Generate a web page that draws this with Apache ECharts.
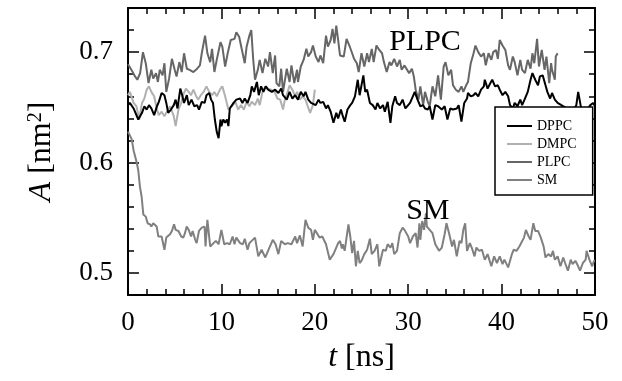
<!DOCTYPE html>
<html>
<head>
<meta charset="utf-8">
<script src="https://cdn.jsdelivr.net/npm/echarts@6/dist/echarts.min.js"></script>
<style>
  html, body { margin: 0; padding: 0; background: #fff; }
  #chart { width: 622px; height: 381px; }
</style>
</head>
<body>
<div id="chart"></div>
<script>
// lipid names, in legend order
const lipids = ['DPPC', 'DMPC', 'PLPC', 'SM'];

// area per lipid A [nm^2] against time t [ns], pairs [t, A]
const dppc = [
  [0, 0.652], [0.2, 0.654], [0.6, 0.649], [1.1, 0.639], [1.5, 0.645], [1.75, 0.651], [2.0, 0.648], [2.25, 0.652],
  [2.5, 0.649], [2.8, 0.643], [3.1, 0.651], [3.3, 0.655], [3.6, 0.663], [3.9, 0.661], [4.1, 0.654], [4.3, 0.645],
  [4.6, 0.648], [4.9, 0.652], [5.1, 0.657], [5.3, 0.649], [5.6, 0.667], [5.8, 0.661], [6.0, 0.654], [6.3, 0.661],
  [6.5, 0.652], [6.8, 0.657], [7.1, 0.651], [7.4, 0.652], [7.6, 0.648], [7.9, 0.655], [8.2, 0.654], [8.4, 0.661],
  [8.7, 0.663], [8.9, 0.657], [9.1, 0.654], [9.3, 0.639], [9.5, 0.628], [9.7, 0.622], [9.9, 0.639], [10.0, 0.633],
  [10.2, 0.639], [10.4, 0.636], [10.6, 0.639], [10.75, 0.633], [10.9, 0.649], [11.3, 0.654], [11.6, 0.657],
  [12.0, 0.658], [12.25, 0.654], [12.5, 0.658], [12.8, 0.654], [13.1, 0.661], [13.25, 0.669], [13.5, 0.664],
  [13.8, 0.673], [14.0, 0.661], [14.25, 0.669], [14.5, 0.664], [14.75, 0.669], [15.0, 0.666], [15.4, 0.664],
  [15.75, 0.666], [16.1, 0.663], [16.4, 0.667], [16.6, 0.661], [17.0, 0.657], [17.3, 0.664], [17.6, 0.658],
  [17.9, 0.661], [18.2, 0.657], [18.5, 0.664], [18.8, 0.660], [19.0, 0.664], [19.3, 0.657], [19.6, 0.654],
  [19.8, 0.655], [20.1, 0.652], [20.4, 0.657], [20.6, 0.654], [20.9, 0.655], [21.2, 0.649], [21.4, 0.652],
  [21.7, 0.646], [22.0, 0.636], [22.3, 0.645], [22.5, 0.640], [22.8, 0.648], [23.0, 0.642], [23.2, 0.637],
  [23.5, 0.648], [23.8, 0.652], [24.0, 0.654], [24.3, 0.660], [24.6, 0.675], [24.8, 0.661], [25.0, 0.670],
  [25.2, 0.679], [25.4, 0.664], [25.6, 0.666], [25.9, 0.654], [26.2, 0.652], [26.5, 0.648], [26.7, 0.654],
  [27.0, 0.649], [27.3, 0.652], [27.5, 0.646], [27.8, 0.655], [28.1, 0.636], [28.3, 0.651], [28.6, 0.660],
  [28.8, 0.654], [29.1, 0.652], [29.4, 0.657], [29.7, 0.649], [29.9, 0.648], [30.2, 0.654], [30.5, 0.660],
  [30.7, 0.664], [31.0, 0.657], [31.3, 0.651], [31.6, 0.652], [31.8, 0.649], [32.1, 0.648], [32.3, 0.651],
  [32.6, 0.639], [32.9, 0.652], [33.2, 0.651], [33.6, 0.648], [33.9, 0.651], [34.2, 0.639], [34.5, 0.649],
  [34.8, 0.648], [35.2, 0.649], [35.4, 0.652], [35.7, 0.637], [36.0, 0.654], [36.3, 0.658], [36.4, 0.663],
  [36.7, 0.660], [37.0, 0.661], [37.2, 0.663], [37.5, 0.660], [37.8, 0.666], [38.1, 0.669], [38.2, 0.675],
  [38.5, 0.667], [38.8, 0.672], [39.0, 0.675], [39.3, 0.669], [39.6, 0.670], [39.8, 0.666], [40.1, 0.661],
  [40.4, 0.664], [40.7, 0.660], [40.9, 0.652], [41.2, 0.649], [41.4, 0.654], [41.7, 0.651], [42.0, 0.657],
  [42.2, 0.652], [42.5, 0.658], [42.8, 0.664], [43.1, 0.675], [43.3, 0.681], [43.6, 0.675], [43.9, 0.670],
  [44.1, 0.678], [44.4, 0.679], [44.7, 0.670], [44.9, 0.664], [45.2, 0.658], [45.4, 0.663], [45.7, 0.657],
  [46.0, 0.654], [46.4, 0.652], [46.8, 0.650], [47.2, 0.648], [47.6, 0.646], [48.0, 0.652], [48.2, 0.664],
  [48.5, 0.650], [48.8, 0.645], [49.2, 0.648], [49.5, 0.652], [49.8, 0.654], [50.0, 0.651]
];

const dmpc = [
  [0, 0.661], [0.2, 0.664], [0.6, 0.654], [0.9, 0.651], [1.2, 0.639], [1.5, 0.654], [1.75, 0.658], [2.0, 0.666],
  [2.25, 0.669], [2.5, 0.664], [2.8, 0.660], [3.1, 0.648], [3.3, 0.643], [3.6, 0.646], [3.9, 0.642], [4.1, 0.645],
  [4.5, 0.651], [4.9, 0.642], [5.1, 0.633], [5.4, 0.648], [5.7, 0.654], [5.9, 0.661], [6.2, 0.667], [6.5, 0.664],
  [6.75, 0.661], [7.0, 0.666], [7.25, 0.661], [7.5, 0.657], [7.8, 0.661], [8.1, 0.664], [8.4, 0.669], [8.7, 0.664],
  [9.0, 0.661], [9.25, 0.664], [9.5, 0.660], [9.9, 0.667], [10.1, 0.669], [10.4, 0.660], [10.75, 0.648],
  [11.1, 0.651], [11.5, 0.655], [11.8, 0.648], [12.1, 0.652], [12.4, 0.648], [12.7, 0.655], [13.0, 0.651],
  [13.25, 0.655], [13.6, 0.652], [13.9, 0.658], [14.1, 0.652], [14.4, 0.664], [14.7, 0.669], [15.0, 0.667],
  [15.3, 0.666], [15.7, 0.664], [16.0, 0.658], [16.3, 0.657], [16.6, 0.648], [16.8, 0.657], [17.1, 0.664],
  [17.3, 0.670], [17.6, 0.666], [17.9, 0.660], [18.1, 0.664], [18.4, 0.657], [18.7, 0.660], [19.0, 0.657],
  [19.2, 0.652], [19.5, 0.645], [19.8, 0.652], [20.0, 0.666]
];

const plpc = [
  [0, 0.689], [0.2, 0.690], [0.5, 0.682], [0.75, 0.678], [1.0, 0.675], [1.3, 0.681], [1.6, 0.700], [1.9, 0.690],
  [2.2, 0.672], [2.5, 0.684], [2.7, 0.676], [3.0, 0.681], [3.2, 0.673], [3.4, 0.684], [3.7, 0.679], [3.9, 0.690],
  [4.1, 0.664], [4.4, 0.676], [4.7, 0.694], [5.0, 0.684], [5.2, 0.678], [5.5, 0.691], [5.75, 0.682], [6.0, 0.699],
  [6.3, 0.685], [6.6, 0.684], [7.0, 0.682], [7.4, 0.685], [7.7, 0.688], [7.9, 0.699], [8.25, 0.715], [8.5, 0.699],
  [8.8, 0.691], [9.0, 0.703], [9.25, 0.682], [9.5, 0.693], [9.9, 0.709], [10.1, 0.705], [10.4, 0.687],
  [10.7, 0.700], [11.0, 0.711], [11.4, 0.712], [11.6, 0.718], [11.9, 0.714], [12.2, 0.702], [12.5, 0.690],
  [12.7, 0.705], [13.0, 0.715], [13.2, 0.720], [13.4, 0.694], [13.6, 0.675], [13.9, 0.684], [14.1, 0.693],
  [14.4, 0.681], [14.7, 0.694], [15.0, 0.687], [15.2, 0.700], [15.5, 0.681], [15.75, 0.697], [15.9, 0.672],
  [16.2, 0.669], [16.4, 0.685], [16.6, 0.664], [17.0, 0.685], [17.3, 0.673], [17.5, 0.688], [17.8, 0.672],
  [18.1, 0.684], [18.2, 0.673], [18.5, 0.687], [18.8, 0.693], [19.1, 0.703], [19.3, 0.696], [19.6, 0.700],
  [19.8, 0.706], [20.1, 0.696], [20.4, 0.691], [20.6, 0.697], [20.9, 0.690], [21.2, 0.715], [21.4, 0.705],
  [21.7, 0.711], [21.9, 0.721], [22.1, 0.708], [22.3, 0.724], [22.5, 0.711], [22.7, 0.697], [23.1, 0.696],
  [23.4, 0.712], [23.7, 0.706], [24.0, 0.699], [24.2, 0.694], [24.5, 0.690], [24.7, 0.682], [25.0, 0.699],
  [25.3, 0.687], [25.6, 0.699], [25.8, 0.691], [26.1, 0.703], [26.3, 0.691], [26.6, 0.706], [26.9, 0.702],
  [27.2, 0.699], [27.4, 0.691], [27.7, 0.682], [28.0, 0.691], [28.2, 0.688], [28.5, 0.694], [28.8, 0.687],
  [29.1, 0.693], [29.3, 0.684], [29.6, 0.688], [29.8, 0.687], [30.1, 0.681], [30.4, 0.685], [30.6, 0.678],
  [30.8, 0.666], [31.1, 0.657], [31.3, 0.669], [31.6, 0.652], [31.8, 0.664], [32.1, 0.655], [32.3, 0.651],
  [32.6, 0.669], [32.9, 0.660], [33.2, 0.679], [33.5, 0.657], [33.8, 0.687], [34.0, 0.691], [34.3, 0.679],
  [34.6, 0.684], [34.8, 0.670], [35.1, 0.666], [35.4, 0.664], [35.7, 0.669], [35.9, 0.664], [36.2, 0.670],
  [36.4, 0.673], [36.7, 0.690], [37.0, 0.699], [37.2, 0.706], [37.5, 0.700], [37.8, 0.696], [38.1, 0.699],
  [38.3, 0.688], [38.6, 0.699], [38.9, 0.693], [39.1, 0.700], [39.4, 0.702], [39.6, 0.694], [39.8, 0.711],
  [40.1, 0.706], [40.4, 0.702], [40.7, 0.688], [40.9, 0.684], [41.2, 0.696], [41.4, 0.691], [41.7, 0.679],
  [42.0, 0.693], [42.2, 0.684], [42.5, 0.681], [42.8, 0.693], [43.1, 0.685], [43.3, 0.699], [43.5, 0.690],
  [43.8, 0.712], [44.0, 0.687], [44.3, 0.702], [44.6, 0.684], [44.8, 0.696], [45.1, 0.672], [45.3, 0.690],
  [45.4, 0.684], [45.7, 0.675], [45.8, 0.696], [46.0, 0.699]
];

const sm = [
  [0, 0.628], [0.4, 0.621], [0.6, 0.611], [0.93, 0.600], [1.1, 0.593], [1.28, 0.578], [1.46, 0.569], [1.64, 0.553],
  [1.9, 0.551], [2.1, 0.545], [2.35, 0.544], [2.5, 0.542], [2.7, 0.545], [3.07, 0.542], [3.25, 0.533], [3.6, 0.533],
  [3.9, 0.521], [4.1, 0.532], [4.5, 0.535], [4.7, 0.538], [4.93, 0.544], [5.1, 0.539], [5.4, 0.538], [5.7, 0.533],
  [5.92, 0.532], [6.1, 0.536], [6.28, 0.542], [6.5, 0.539], [6.75, 0.533], [6.92, 0.538], [7.2, 0.530],
  [7.35, 0.527], [7.6, 0.538], [7.9, 0.541], [8.2, 0.542], [8.3, 0.524], [8.5, 0.548], [8.8, 0.524], [9.0, 0.524],
  [9.4, 0.529], [9.7, 0.526], [10.0, 0.539], [10.3, 0.526], [10.6, 0.527], [10.9, 0.526], [11.2, 0.533],
  [11.4, 0.526], [11.6, 0.532], [12.0, 0.527], [12.3, 0.526], [12.5, 0.531], [12.8, 0.521], [13.0, 0.527],
  [13.6, 0.532], [13.95, 0.515], [14.3, 0.521], [14.7, 0.514], [15.1, 0.522], [15.5, 0.530], [15.8, 0.526],
  [16.1, 0.517], [16.4, 0.529], [16.8, 0.526], [17.1, 0.527], [17.5, 0.526], [17.9, 0.533], [18.1, 0.527],
  [18.4, 0.534], [18.7, 0.524], [19.0, 0.548], [19.3, 0.541], [19.6, 0.539], [19.8, 0.530], [20.0, 0.539],
  [20.3, 0.535], [20.5, 0.532], [20.8, 0.533], [21.2, 0.526], [21.4, 0.526], [21.6, 0.512], [22.0, 0.517],
  [22.2, 0.518], [22.5, 0.527], [22.7, 0.529], [22.9, 0.522], [23.0, 0.526], [23.2, 0.520], [23.6, 0.544],
  [23.8, 0.533], [24.0, 0.518], [24.2, 0.529], [24.4, 0.506], [24.6, 0.520], [24.8, 0.509], [25.0, 0.511],
  [25.3, 0.517], [25.6, 0.521], [25.9, 0.531], [26.1, 0.517], [26.4, 0.520], [26.7, 0.526], [26.9, 0.506],
  [27.3, 0.521], [27.6, 0.520], [27.8, 0.526], [28.1, 0.523], [28.3, 0.527], [28.5, 0.517], [28.8, 0.520],
  [29.1, 0.536], [29.4, 0.541], [29.6, 0.539], [30.0, 0.533], [30.2, 0.527], [30.5, 0.533], [30.8, 0.536],
  [31.0, 0.523], [31.2, 0.545], [31.3, 0.530], [31.5, 0.547], [31.7, 0.539], [31.9, 0.554], [32.0, 0.542],
  [32.3, 0.539], [32.6, 0.536], [32.9, 0.526], [33.3, 0.520], [33.6, 0.523], [33.9, 0.535], [34.1, 0.545],
  [34.4, 0.535], [34.7, 0.524], [34.9, 0.530], [35.2, 0.515], [35.5, 0.529], [35.7, 0.527], [35.9, 0.539],
  [36.1, 0.545], [36.3, 0.520], [36.6, 0.527], [36.8, 0.523], [37.1, 0.515], [37.3, 0.523], [37.6, 0.520],
  [37.9, 0.521], [38.2, 0.512], [38.5, 0.517], [38.9, 0.506], [39.2, 0.515], [39.5, 0.509], [39.8, 0.515],
  [40.1, 0.508], [40.3, 0.512], [40.7, 0.505], [41.1, 0.517], [41.3, 0.521], [41.6, 0.520], [41.9, 0.524],
  [42.1, 0.523], [42.4, 0.532], [42.6, 0.539], [42.9, 0.533], [43.1, 0.530], [43.4, 0.545], [43.6, 0.538],
  [43.9, 0.538], [44.2, 0.532], [44.5, 0.524], [44.7, 0.514], [45.0, 0.517], [45.3, 0.515], [45.5, 0.520],
  [45.7, 0.512], [46.0, 0.515], [46.3, 0.506], [46.6, 0.514], [46.8, 0.509], [47.1, 0.502], [47.4, 0.512],
  [47.6, 0.508], [47.9, 0.511], [48.2, 0.506], [48.4, 0.502], [48.7, 0.509], [49.0, 0.512], [49.1, 0.520],
  [49.4, 0.512], [49.7, 0.506], [49.9, 0.511], [50.0, 0.511]
];

// tick positions on the area axis
const yMajorTicks = [0.5, 0.6, 0.7];
const yMinorTicks = [0.48, 0.52, 0.54, 0.56, 0.58, 0.62, 0.64, 0.66, 0.68, 0.72, 0.74];

// text written inside the plot, at data coordinates
const notes = [
  { text: 'PLPC', at: [31.8, 0.709] },
  { text: 'SM', at: [32.1, 0.556] }
];

const serif = '"Liberation Serif", "DejaVu Serif", serif';
const colors = ['#000000', '#b0b0b0', '#666666', '#808080'];
const seriesData = [dppc, dmpc, plpc, sm];

// a thin horizontal bar for the legend keys (tiny corner dots keep the 25x14 box)
const lineKey = 'path://M0,0L0.01,0L0,0.01Z M0,6.1L25,6.1L25,7.9L0,7.9Z M25,14L24.99,14L25,13.99Z';

const chart = echarts.init(document.getElementById('chart'), null, { renderer: 'canvas' });

const xBase = {
  type: 'value', min: 0, max: 50, interval: 10,
  axisLine: { onZero: false, lineStyle: { color: '#000', width: 2 } },
  axisTick: { inside: true, length: 11, lineStyle: { color: '#000', width: 1.5 } },
  minorTick: { show: true, splitNumber: 5, length: 6, lineStyle: { color: '#000', width: 1.5 } },
  splitLine: { show: false },
  minorSplitLine: { show: false }
};

function yAxis(position, ticks, len, showLine, withLabels) {
  const ax = {
    type: 'value', min: 0.48, max: 0.74, position: position,
    axisLine: { show: showLine, onZero: false, lineStyle: { color: '#000', width: 2 } },
    axisTick: { inside: true, length: len, customValues: ticks, lineStyle: { color: '#000', width: 1.5 } },
    axisLabel: { show: false },
    splitLine: { show: false }
  };
  if (withLabels) {
    ax.axisLabel = {
      show: true, customValues: ticks, margin: 15, color: '#000',
      fontSize: 27, fontFamily: serif,
      formatter: v => v.toFixed(1)
    };
    ax.name = '{i|A} [nm{s|2}]';
    ax.nameLocation = 'middle';
    ax.nameGap = 70;
    ax.nameRotate = 90;
    ax.nameTextStyle = {
      color: '#000', fontSize: 32, fontFamily: serif,
      rich: {
        i: { fontStyle: 'italic', fontSize: 32, fontFamily: serif, color: '#000' },
        s: { fontSize: 20, fontFamily: serif, color: '#000', verticalAlign: 'top' }
      }
    };
  }
  return ax;
}

const option = {
  backgroundColor: '#fff',
  animation: false,
  grid: { left: 128, right: 27, top: 8, bottom: 86 },
  color: colors,
  legend: {
    data: lipids.map(name => ({ name: name, icon: lineKey })),
    orient: 'vertical',
    left: 495, top: 107,
    itemWidth: 25, itemHeight: 14, itemGap: 4,
    padding: [12, 16, 8, 12],
    backgroundColor: '#fff',
    borderColor: '#000', borderWidth: 1.5, borderRadius: 0,
    itemStyle: { borderWidth: 0 },
    textStyle: { color: '#000', fontSize: 14, fontFamily: serif },
    z: 10
  },
  xAxis: [
    Object.assign({}, xBase, {
      position: 'bottom',
      axisLabel: { margin: 14, color: '#000', fontSize: 27, fontFamily: serif },
      name: '{i|t} [ns]',
      nameLocation: 'middle',
      nameGap: 47,
      nameTextStyle: {
        color: '#000', fontSize: 32, fontFamily: serif,
        rich: { i: { fontStyle: 'italic', fontSize: 32, fontFamily: serif, color: '#000' } }
      }
    }),
    Object.assign({}, xBase, { position: 'top', axisLabel: { show: false } })
  ],
  yAxis: [
    yAxis('left', yMajorTicks, 11, true, true),
    yAxis('left', yMinorTicks, 6, false, false),
    yAxis('right', yMajorTicks, 11, true, false),
    yAxis('right', yMinorTicks, 6, false, false)
  ],
  series: lipids.map((name, i) => ({
    name: name,
    type: 'line',
    xAxisIndex: 0,
    yAxisIndex: 0,
    data: seriesData[i],
    symbol: 'none',
    lineStyle: { color: colors[i], width: 2 },
    z: 2 + (3 - i)
  }))
};

chart.setOption(option);

// place the in-plot labels through the axes' own scales
chart.setOption({
  graphic: notes.map(n => {
    const p = chart.convertToPixel({ xAxisIndex: 0, yAxisIndex: 0 }, n.at);
    return {
      type: 'text', x: p[0], y: p[1], z: 20,
      style: {
        text: n.text, fill: '#000', font: '30px ' + serif,
        align: 'center', verticalAlign: 'middle'
      }
    };
  })
});
</script>
</body>
</html>
